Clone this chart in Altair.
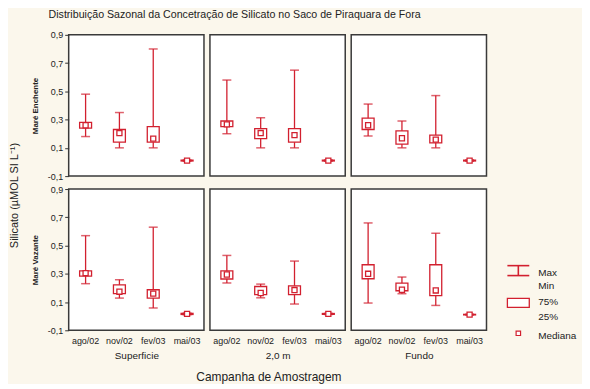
import altair as alt
import pandas as pd

RED = "#d2202f"
BG = "#fbf7ec"
FONT = "Liberation Sans"

cats = ["ago/02", "nov/02", "fev/03", "mai/03"]
y_ticks = [-0.1, 0.1, 0.3, 0.5, 0.7, 0.9]
col_labels = ["Superficie", "2,0 m", "Fundo"]
row_labels = ["Maré  Enchente", "Maré  Vazante"]

# Maré Enchente
sup_enc_min = [0.18, 0.10, 0.10, 0.005]
sup_enc_q1 = [0.24, 0.14, 0.14, 0.007]
sup_enc_med = [0.26, 0.205, 0.165, 0.010]
sup_enc_q3 = [0.28, 0.23, 0.25, 0.013]
sup_enc_max = [0.48, 0.35, 0.80, 0.015]

m2_enc_min = [0.20, 0.10, 0.10, 0.005]
m2_enc_q1 = [0.25, 0.165, 0.14, 0.007]
m2_enc_med = [0.266, 0.205, 0.19, 0.010]
m2_enc_q3 = [0.29, 0.236, 0.236, 0.013]
m2_enc_max = [0.58, 0.313, 0.65, 0.015]

fun_enc_min = [0.184, 0.10, 0.10, 0.005]
fun_enc_q1 = [0.23, 0.127, 0.135, 0.007]
fun_enc_med = [0.26, 0.168, 0.158, 0.010]
fun_enc_q3 = [0.31, 0.22, 0.19, 0.013]
fun_enc_max = [0.41, 0.29, 0.47, 0.015]

# Maré Vazante
sup_vaz_min = [0.23, 0.128, 0.058, 0.010]
sup_vaz_q1 = [0.284, 0.16, 0.128, 0.012]
sup_vaz_med = [0.305, 0.173, 0.16, 0.016]
sup_vaz_q3 = [0.32, 0.222, 0.187, 0.020]
sup_vaz_max = [0.57, 0.258, 0.63, 0.022]

m2_vaz_min = [0.235, 0.13, 0.086, 0.012]
m2_vaz_q1 = [0.263, 0.152, 0.152, 0.013]
m2_vaz_med = [0.295, 0.164, 0.185, 0.016]
m2_vaz_q3 = [0.32, 0.21, 0.215, 0.019]
m2_vaz_max = [0.43, 0.227, 0.39, 0.020]

fun_vaz_min = [0.093, 0.159, 0.076, 0.008]
fun_vaz_q1 = [0.265, 0.18, 0.145, 0.009]
fun_vaz_med = [0.30, 0.187, 0.182, 0.011]
fun_vaz_q3 = [0.364, 0.234, 0.364, 0.013]
fun_vaz_max = [0.66, 0.277, 0.587, 0.014]

panels = [
    [
        (sup_enc_min, sup_enc_q1, sup_enc_med, sup_enc_q3, sup_enc_max),
        (m2_enc_min, m2_enc_q1, m2_enc_med, m2_enc_q3, m2_enc_max),
        (fun_enc_min, fun_enc_q1, fun_enc_med, fun_enc_q3, fun_enc_max),
    ],
    [
        (sup_vaz_min, sup_vaz_q1, sup_vaz_med, sup_vaz_q3, sup_vaz_max),
        (m2_vaz_min, m2_vaz_q1, m2_vaz_med, m2_vaz_q3, m2_vaz_max),
        (fun_vaz_min, fun_vaz_q1, fun_vaz_med, fun_vaz_q3, fun_vaz_max),
    ],
]

PW, PH = 136, 142
y_scale = alt.Scale(domain=[-0.1, 0.9], nice=False, zero=False)
x_scale = alt.Scale(domain=cats, paddingInner=0, paddingOuter=0)


def make_panel(stats, r, c):
    mn, q1, md, q3, mx = stats
    df = pd.DataFrame({"cat": cats, "mn": mn, "q1": q1, "md": md, "q3": q3, "mx": mx})
    if c == 0:
        yaxis = alt.Axis(
            values=y_ticks,
            labelExpr="replace(replace(format(datum.value, '.1f'), '.', ','), '−', '-')",
            tickSize=4, tickColor="#333", labelFontSize=9, labelColor="#222",
            labelPadding=2, domain=False, grid=False,
            title=row_labels[r], titleFontSize=8, titleFontWeight="bold",
            titleColor="#222", titlePadding=8,
        )
    else:
        yaxis = None
    if r == 1:
        xaxis = alt.Axis(
            title=col_labels[c], labelAngle=0, ticks=False, domain=False,
            labelFontSize=9, labelColor="#222", labelPadding=6,
            titleFontSize=10, titleFontWeight="normal", titleColor="#222",
            titlePadding=5,
        )
    else:
        xaxis = None

    def Y(f):
        return alt.Y(f, type="quantitative", scale=y_scale, axis=yaxis)

    base = alt.Chart(df).encode(
        x=alt.X("cat:N", sort=cats, scale=x_scale, axis=xaxis)
    )
    rule = base.mark_rule(color=RED, strokeWidth=1.3).encode(y=Y("mn"), y2="mx:Q")
    cap_hi = base.mark_tick(color=RED, size=9, thickness=1.5).encode(y=Y("mx"))
    cap_lo = base.mark_tick(color=RED, size=9, thickness=1.5).encode(y=Y("mn"))
    box = base.mark_bar(size=12, fill="white", stroke=RED, strokeWidth=1.3).encode(
        y=Y("q1"), y2="q3:Q"
    )
    med = base.mark_square(size=26, fill="white", stroke=RED, strokeWidth=1.3, opacity=1).encode(
        y=Y("md")
    )
    return alt.layer(rule, cap_hi, cap_lo, box, med).properties(width=PW, height=PH)


rows = []
for r in range(2):
    rows.append(alt.hconcat(*[make_panel(panels[r][c], r, c) for c in range(3)], spacing=4))

grid = alt.vconcat(*rows, spacing=2).properties(
    title=alt.TitleParams(
        "Silicato (µMOL SI L⁻¹)", orient="left", anchor="middle",
        fontSize=11, fontWeight="normal", color="#222", offset=11,
    )
)
block = alt.vconcat(grid).properties(
    title=alt.TitleParams(
        "Campanha de Amostragem", orient="bottom", anchor="middle", dx=21,
        fontSize=12, fontWeight="normal", color="#222", offset=11,
    )
)

one = pd.DataFrame({"k": [0]})
lg = []
for y in [232, 242]:
    lg.append(alt.Chart(one).mark_rule(color=RED, strokeWidth=1.6).encode(
        x=alt.value(6), x2=alt.value(28), y=alt.value(y)))
lg.append(alt.Chart(one).mark_rule(color=RED, strokeWidth=1.6).encode(
    x=alt.value(17), y=alt.value(232), y2=alt.value(242)))
lg.append(alt.Chart(one).mark_rect(fill="white", stroke=RED, strokeWidth=1.3).encode(
    x=alt.value(6), x2=alt.value(28), y=alt.value(265), y2=alt.value(274)))
lg.append(alt.Chart(one).mark_square(size=20, fill="white", stroke=RED, strokeWidth=1.2, opacity=1).encode(
    x=alt.value(17), y=alt.value(300)))
for txt, y in [("Max", 239), ("Min", 252), ("75%", 269), ("25%", 284), ("Mediana", 303)]:
    lg.append(alt.Chart(one).mark_text(align="left", baseline="middle", fontSize=10, color="#222").encode(
        x=alt.value(37), y=alt.value(y), text=alt.value(txt)))
legend = alt.layer(*lg).properties(
    width=80, height=2 * PH + 12,
    view=alt.ViewBackground(stroke="transparent", fill="transparent"),
)

chart = alt.hconcat(block, legend, spacing=13).properties(
    title=alt.TitleParams(
        "Distribuição Sazonal da Concetração de Silicato no Saco de Piraquara de Fora",
        anchor="start", dx=40, fontSize=10.7, fontWeight="normal", color="#222", offset=9,
    ),
    padding=0,
).configure(
    background=BG, font=FONT,
).configure_view(
    stroke="#3a3a3a", strokeWidth=1.5, fill="white",
)

chart.save("out.html", embed_options={"renderer": "svg", "actions": False})
